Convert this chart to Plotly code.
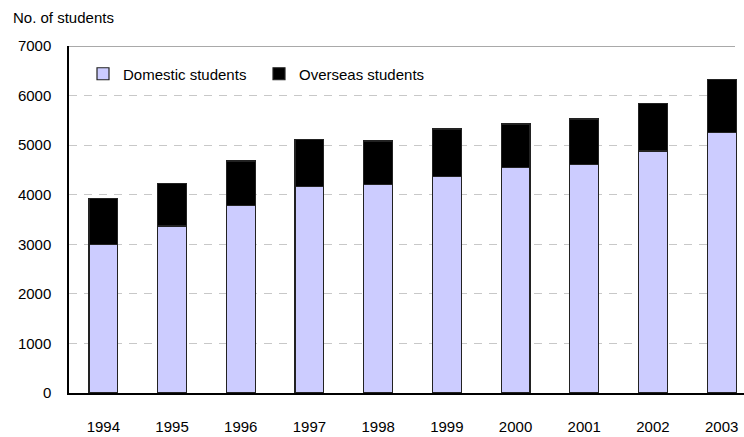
import plotly.graph_objects as go

# Student numbers by year
years = ["1994", "1995", "1996", "1997", "1998", "1999", "2000", "2001", "2002", "2003"]
domestic = [3000, 3370, 3790, 4170, 4200, 4370, 4545, 4610, 4880, 5260]
overseas = [920, 860, 890, 950, 885, 955, 880, 917, 958, 1063]
y_ticks = [0, 1000, 2000, 3000, 4000, 5000, 6000, 7000]

W, H = 744, 437
L, R, T, B = 69, 0, 46, 44
font_family = "Liberation Sans, Arial, sans-serif"
fs = 15

fig = go.Figure()
fig.add_trace(go.Bar(
    x=years, y=domestic, name="Domestic students",
    marker=dict(color="#CCCCFF", line=dict(color="#222222", width=1.2)),
    width=0.42,
))
fig.add_trace(go.Bar(
    x=years, y=overseas, name="Overseas students",
    marker=dict(color="#000000", line=dict(color="#222222", width=1.2)),
    width=0.42,
))

# solid grey rule across the top of the plot area
fig.add_shape(type="line", xref="paper", yref="y",
              x0=0, x1=(735 - L) / (W - L - R), y0=7000, y1=7000,
              line=dict(color="#8c8c8c", width=1.6), layer="above")

fig.update_layout(
    width=W, height=H,
    margin=dict(l=L, r=R, t=T, b=B, pad=0),
    barmode="stack",
    plot_bgcolor="white", paper_bgcolor="white",
    font=dict(family=font_family, size=fs, color="#000000"),
    showlegend=True,
    legend=dict(
        orientation="h", x=(83 - L) / (W - L - R), xanchor="left",
        y=1 - (74 - T) / (H - T - B), yanchor="middle",
        bgcolor="rgba(0,0,0,0)", font=dict(size=fs),
        traceorder="normal", entrywidth=131, entrywidthmode="pixels",
        itemwidth=30,
    ),
    title=dict(text="No. of students", x=13 / W, xanchor="left",
               y=1 - 18 / H, yanchor="middle", xref="container",
               font=dict(size=fs)),
    xaxis=dict(
        type="category", range=[-0.5, 9.325],
        showline=True, linecolor="#000000", linewidth=1.5,
        ticks="", ticklabelstandoff=19, showgrid=False,
        tickfont=dict(size=fs),
    ),
    yaxis=dict(
        range=[0, 7000], tickvals=y_ticks,
        showline=True, linecolor="#000000", linewidth=1.5,
        ticks="", ticklabelstandoff=13,
        showgrid=True, gridcolor="#c8c8c8", gridwidth=1, griddash="8px,7px",
        zeroline=False, tickfont=dict(size=fs),
    ),
)

fig.write_html("out.html")
